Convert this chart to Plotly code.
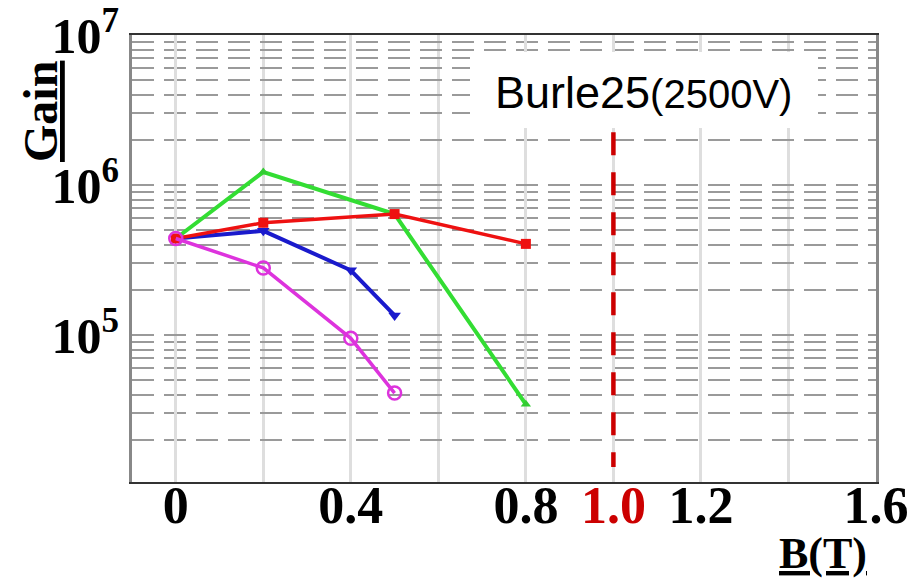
import plotly.graph_objects as go

# ---- data ----
b_red = [0.0, 0.2, 0.5, 0.8]
gain_red = [4.4e5, 5.6e5, 6.4e5, 4.05e5]

b_green = [0.0, 0.2, 0.5, 0.8]
gain_green = [4.4e5, 1.22e6, 6.4e5, 3.45e4]

b_blue = [0.0, 0.2, 0.4, 0.5]
gain_blue = [4.4e5, 4.95e5, 2.7e5, 1.35e5]

b_pink = [0.0, 0.2, 0.4, 0.5]
gain_pink = [4.4e5, 2.8e5, 9.5e4, 4.1e4]

limit_b = [1.0, 1.0]
limit_gain = [2.25e6, 1.32e4]

x_tickvals = [0, 0.4, 0.8, 1.0, 1.2, 1.6]
x_ticktext = ["0", "0.4", "0.8", '<span style="color:#cc0000">1.0</span>', "1.2", "1.6"]
y_tickvals = [1e5, 1e6, 1e7]
y_ticktext = ["10<sup>5</sup>", "10<sup>6</sup>", "10<sup>7</sup>"]

legend_name = "Burle25"
legend_volt = "(2500V)"

SERIF = "Liberation Serif, Times New Roman, serif"
SANS = "Liberation Sans, Arial, sans-serif"

fig = go.Figure()

fig.add_trace(go.Scatter(x=b_green, y=gain_green, mode="lines+markers",
                         line=dict(color="#33dd33", width=4),
                         marker=dict(symbol="triangle-up", size=9, color="#33cc33")))
fig.add_trace(go.Scatter(x=b_blue, y=gain_blue, mode="lines+markers",
                         line=dict(color="#1a1acc", width=4),
                         marker=dict(symbol="triangle-down", size=11, color="#1a1acc")))
fig.add_trace(go.Scatter(x=b_red, y=gain_red, mode="lines+markers",
                         line=dict(color="#ee1111", width=3.5),
                         marker=dict(symbol="square", size=10, color="#ee1111")))
fig.add_trace(go.Scatter(x=b_pink, y=gain_pink, mode="lines+markers",
                         line=dict(color="#dd33dd", width=3.5),
                         marker=dict(symbol="circle-open", size=13, color="#dd33dd",
                                     line=dict(width=2.5, color="#dd33dd"))))
fig.add_trace(go.Scatter(x=limit_b, y=limit_gain, mode="lines",
                         line=dict(color="#cc0000", width=4.5, dash="23px,17px")))

# white box behind the label
fig.add_shape(type="rect", xref="paper", yref="paper",
              x0=(470 - 132) / 744, x1=(818 - 132) / 744,
              y0=(482 - 128) / 447, y1=(482 - 52) / 447,
              fillcolor="white", line=dict(width=0), layer="above")

fig.add_annotation(xref="paper", yref="paper", x=(643 - 132) / 744, y=(482 - 92) / 447,
                   text=f'{legend_name}<span style="font-size:40px">{legend_volt}</span>',
                   showarrow=False, xanchor="center", yanchor="middle",
                   font=dict(family=SANS, size=45, color="black"))

fig.add_annotation(xref="paper", yref="paper", x=(40 - 132) / 744, y=(482 - 112) / 447,
                   text="<u>Gain</u>", textangle=-90, showarrow=False,
                   xanchor="center", yanchor="middle",
                   font=dict(family=SERIF, size=48, color="black", weight="bold"))

fig.add_annotation(xref="paper", yref="paper", x=(823 - 132) / 744, y=(482 - 553) / 447,
                   text="<u>B(T)</u>", showarrow=False,
                   xanchor="center", yanchor="middle",
                   font=dict(family=SERIF, size=44, color="black", weight="bold"))

fig.update_layout(
    width=909, height=582,
    margin=dict(l=132, r=33, t=35, b=100),
    paper_bgcolor="white", plot_bgcolor="white",
    showlegend=False,
    xaxis=dict(range=[-0.1, 1.6], tickvals=x_tickvals, ticktext=x_ticktext,
               tickfont=dict(family=SERIF, size=52, color="black", weight="bold"),
               ticklabelstandoff=-23, automargin=False,
               showgrid=True, gridcolor="#dedede", gridwidth=3,
               minor=dict(dtick=0.2, tick0=0, showgrid=True, gridcolor="#dedede", gridwidth=3),
               showline=True, linecolor="#333", linewidth=2, mirror=True,
               ticks="", zeroline=False),
    yaxis=dict(type="log", range=[4.02, 7.0], tickvals=y_tickvals, ticktext=y_ticktext,
               tickfont=dict(family=SERIF, size=50, color="black", weight="bold"),
               automargin=False,
               showgrid=True, gridcolor="#9a9a9a", gridwidth=1.5, griddash="22px,10px",
               minor=dict(dtick="D1", showgrid=True, gridcolor="#9a9a9a", gridwidth=1.5,
                          griddash="22px,10px"),
               showline=True, linecolor="#888", linewidth=3, mirror=True,
               ticks="", zeroline=False),
)

fig.write_html("out.html")
